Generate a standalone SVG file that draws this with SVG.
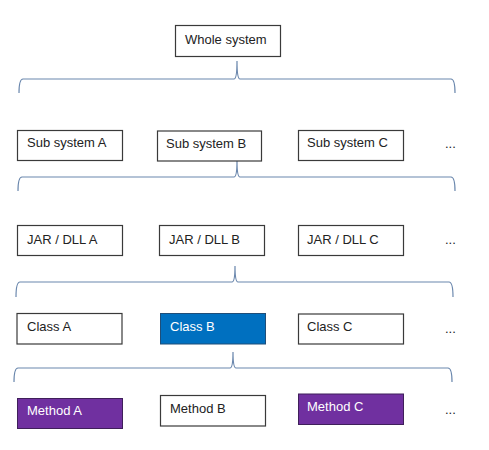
<svg xmlns="http://www.w3.org/2000/svg" width="489" height="450" viewBox="0 0 489 450">
<style>
.box{fill:#fff;stroke:#3a3a3a;stroke-width:1.2}
.blue{fill:#0070c0;stroke:#1f4e79;stroke-width:1}
.purple{fill:#7030a0;stroke:#3f1f5a;stroke-width:1}
text{font-family:"Liberation Sans",Arial,sans-serif;font-size:13px;fill:#222}
.w{fill:#fff}
.brace{fill:none;stroke:#6a87ad;stroke-width:1.2}
</style>
<rect width="489" height="450" fill="#fff"/>
<g id="connectors">
<path class="brace" d="M19,93 Q19,79 23,79 L234,79 Q237,79 237,61 Q237,79 240,79 L451,79 Q455,79 455,93"/>
<path class="brace" d="M18,191 Q18,177 22,177 L234,177 Q237,177 237,161 Q237,177 240,177 L451,177 Q455,177 455,191"/>
<path class="brace" d="M16,297 Q16,282 20,282 L232,282 Q235,282 235,266 Q235,282 238,282 L449,282 Q453,282 453,297"/>
<path class="brace" d="M14,382 Q14,368 18,368 L230,368 Q233,368 233,352 Q233,368 236,368 L448,368 Q452,368 452,382"/>
</g>
<g id="whole"><rect class="box" x="175.5" y="25.5" width="105" height="31"/><text x="185" y="44">Whole system</text></g>
<g id="subA"><rect class="box" x="17.5" y="130.5" width="105" height="30"/><text x="27" y="147">Sub system A</text></g>
<g id="subB"><rect class="box" x="157.5" y="131" width="104" height="30"/><text x="166" y="148">Sub system B</text></g>
<g id="subC"><rect class="box" x="298.5" y="130.5" width="105" height="30"/><text x="307" y="147">Sub system C</text></g>
<g id="subMore"><text x="445" y="148">...</text></g>
<g id="jarA"><rect class="box" x="17.5" y="225.5" width="105" height="30"/><text x="27" y="244">JAR / DLL A</text></g>
<g id="jarB"><rect class="box" x="159.5" y="225.5" width="105" height="30"/><text x="169" y="244">JAR / DLL B</text></g>
<g id="jarC"><rect class="box" x="298.5" y="225.5" width="105" height="30"/><text x="307" y="244">JAR / DLL C</text></g>
<g id="jarMore"><text x="445" y="244">...</text></g>
<g id="classA"><rect class="box" x="17" y="313.5" width="105" height="30.5"/><text x="27" y="331">Class A</text></g>
<g id="classB"><rect class="blue" x="160.5" y="313.5" width="105" height="30.5"/><text class="w" x="170" y="331">Class B</text></g>
<g id="classC"><rect class="box" x="298.5" y="314" width="105" height="30"/><text x="307" y="331">Class C</text></g>
<g id="classMore"><text x="445" y="333">...</text></g>
<g id="methodA"><rect class="purple" x="17.5" y="398.5" width="105" height="30"/><text class="w" x="27" y="415">Method A</text></g>
<g id="methodB"><rect class="box" x="160.5" y="395.5" width="105" height="30.5"/><text x="170" y="413">Method B</text></g>
<g id="methodC"><rect class="purple" x="298.5" y="394" width="105" height="30.5"/><text class="w" x="307" y="411">Method C</text></g>
<g id="methodMore"><text x="445" y="414">...</text></g>
</svg>
